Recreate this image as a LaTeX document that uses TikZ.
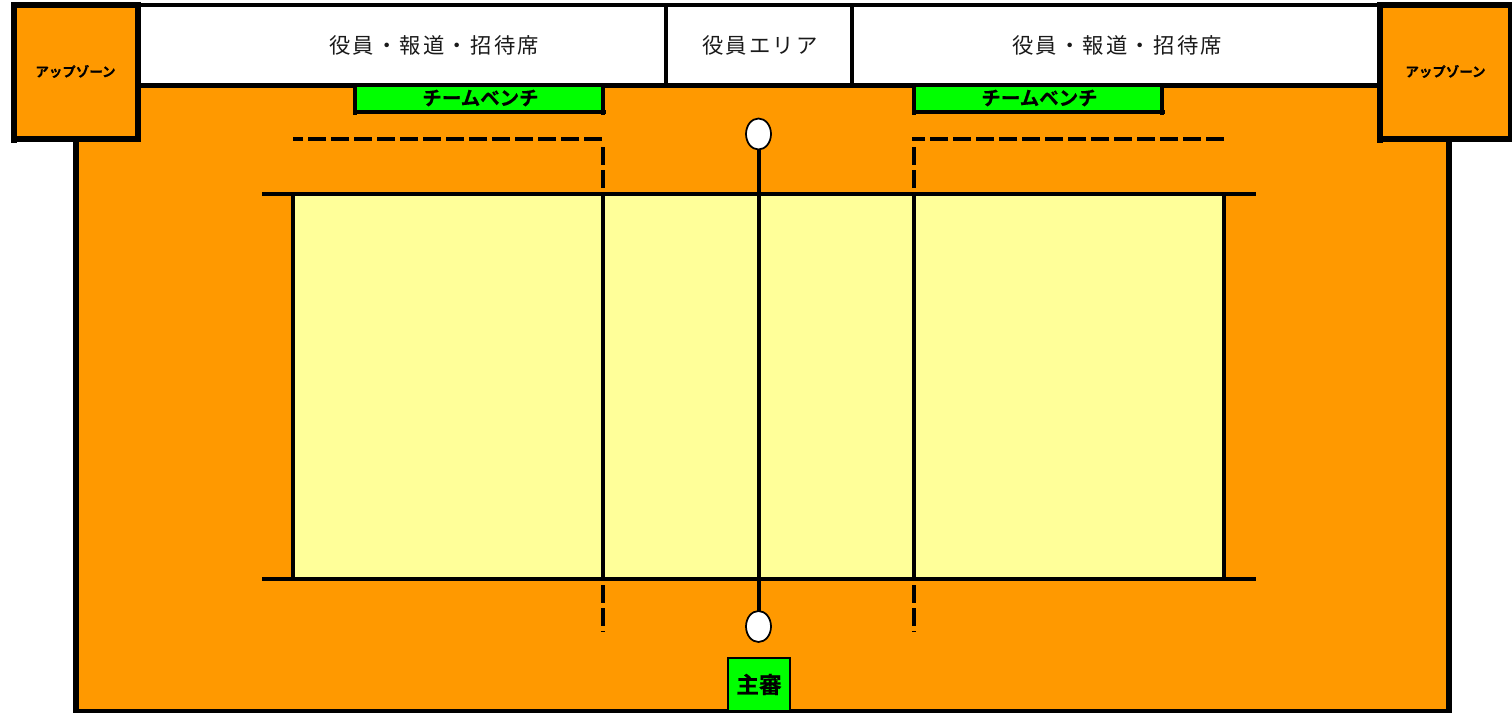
\documentclass[tikz,border=0pt]{standalone}
\usepackage{fontspec}
\setmainfont{Noto Sans CJK JP}
\newfontfamily\cjkreg[LetterSpace=10.5]{Noto Sans CJK JP}
\newfontfamily\cjkbold[FakeBold=0.4]{Noto Sans CJK JP Bold}
\definecolor{floorc}{HTML}{FF9900}
\definecolor{courtc}{HTML}{FFFF99}
\definecolor{greenc}{HTML}{00FF00}
\definecolor{inkc}{HTML}{000000}
\definecolor{labelc}{HTML}{1A1A1A}
\tikzset{
  x=0.75pt,y=-0.75pt,
  box/.style args={#1 by #2}{rectangle,inner sep=0pt,minimum width={#1*0.75pt},minimum height={#2*0.75pt}},
  floorbox/.style={draw=inkc,fill=floorc,line width=4.5pt},
  seat/.style={draw=inkc,fill=white,line width=3pt},
  seattext/.style={text=labelc,font=\cjkreg\fontsize{16}{18}\selectfont},
  upzone/.style={draw=inkc,fill=floorc,line width=4.5pt},
  uptext/.style={font=\cjkbold\fontsize{10.1}{12}\selectfont},
  bench/.style={draw=inkc,fill=greenc,line width=3pt},
  benchtext/.style={font=\cjkbold\fontsize{14.6}{16}\selectfont},
  court/.style={draw=none,fill=courtc},
  rule/.style={draw=inkc,line width=3pt},
  dashrule/.style={draw=inkc,line width=3pt,dash pattern=on 13.5pt off 3.75pt},
  pole/.style={ellipse,draw=inkc,fill=white,line width=1.3pt,inner sep=0pt,minimum width={25*0.75pt},minimum height={31*0.75pt}},
  referee/.style={draw=inkc,fill=greenc,line width=1.5pt,font=\cjkbold\fontsize{17}{20}\selectfont},
}
\usetikzlibrary{shapes.geometric}
\begin{document}
\begin{tikzpicture}
\useasboundingbox (0,0) rectangle (1512,713);
% floor
\node[floorbox,box=1373 by 627] (floor) at (762.5,398.5) {};
% court
\node[court,box=931 by 385] (courtarea) at (758.5,386) {};
% seats
\node[seat,box=528 by 80] (seatL) at (402,45) {};
\node[seat,box=186 by 80] (seatM) at (759,45) {};
\node[seat,box=528 by 80] (seatR) at (1116,45) {};
\node[seattext] (seatLt) at (434,45) {役員・報道・招待席};
\node[seattext] (seatMt) at (760,45) {役員エリア};
\node[seattext] (seatRt) at (1117,45) {役員・報道・招待席};
% up zones
\node[upzone,box=124 by 134] (upL) at (76,72) {};
\node[upzone,box=131 by 134] (upR) at (1445.5,72) {};
\node[uptext] (upLt) at (75.5,71.5) {アップゾーン};
\node[uptext] (upRt) at (1445.5,71.5) {アップゾーン};
\coordinate (upLa) at (14,139); \coordinate (upLb) at (14,143);
\coordinate (upRa) at (1380,139); \coordinate (upRb) at (1380,143);
\draw[line width=4.5pt,inkc] (upLa) -- (upLb);
\draw[line width=4.5pt,inkc] (upRa) -- (upRb);
% benches
\node[bench,box=248 by 27] (benchL) at (479,98.5) {};
\node[bench,box=248 by 27] (benchR) at (1038,98.5) {};
\node[benchtext] (benchLt) at (480.5,98) {チームベンチ};
\node[benchtext] (benchRt) at (1039.5,98) {チームベンチ};
\coordinate (bl1) at (355,112); \coordinate (bl2) at (355,115);
\coordinate (bl3) at (603,112); \coordinate (bl4) at (603,115);
\coordinate (bl5) at (603,112); \coordinate (bl6) at (606,112);
\coordinate (br1) at (914,112); \coordinate (br2) at (914,115);
\coordinate (br3) at (1162,112); \coordinate (br4) at (1162,115);
\coordinate (br5) at (1162,112); \coordinate (br6) at (1165,112);
\draw[rule] (bl1) -- (bl2); \draw[rule] (bl3) -- (bl4); \draw[rule] (bl5) -- (bl6);
\draw[rule] (br1) -- (br2); \draw[rule] (br3) -- (br4); \draw[rule] (br5) -- (br6);
% court lines
\coordinate (t1) at (262,194); \coordinate (t2) at (1256,194);
\coordinate (b1) at (262,579); \coordinate (b2) at (1256,579);
\draw[rule] (t1) -- (t2);
\draw[rule] (b1) -- (b2);
\coordinate (e1t) at (293,194); \coordinate (e1b) at (293,581);
\coordinate (e2t) at (1224,194); \coordinate (e2b) at (1224,581);
\coordinate (a1t) at (603,194); \coordinate (a1b) at (603,581);
\coordinate (a2t) at (914,194); \coordinate (a2b) at (914,581);
\draw[rule] (e1t) -- (e1b);
\draw[rule] (e2t) -- (e2b);
\draw[rule] (a1t) -- (a1b);
\draw[rule] (a2t) -- (a2b);
% dashed free-zone lines
\coordinate (d1a) at (602,139); \coordinate (d1b) at (293,139);
\coordinate (d2a) at (1224,139); \coordinate (d2b) at (912,139);
\draw[dashrule] (d1a) -- (d1b);
\draw[dashrule] (d2a) -- (d2b);
\coordinate (v1a) at (603,188); \coordinate (v1b) at (603,147);
\coordinate (v2a) at (914,188); \coordinate (v2b) at (914,147);
\coordinate (v3a) at (603,585); \coordinate (v3b) at (603,632);
\coordinate (v4a) at (914,585); \coordinate (v4b) at (914,632);
\draw[dashrule] (v1a) -- (v1b);
\draw[dashrule] (v2a) -- (v2b);
\draw[dashrule] (v3a) -- (v3b);
\draw[dashrule] (v4a) -- (v4b);
% net
\node[pole] (poleT) at (758.5,134) {};
\node[pole] (poleB) at (758.5,626.5) {};
\coordinate (netT) at (759,150);
\coordinate (netB) at (759,611);
\draw[rule] (netT) -- (netB);
% referee
\node[referee,box=62 by 53] (ref) at (759,684.5) {主審};
\end{tikzpicture}
\end{document}
